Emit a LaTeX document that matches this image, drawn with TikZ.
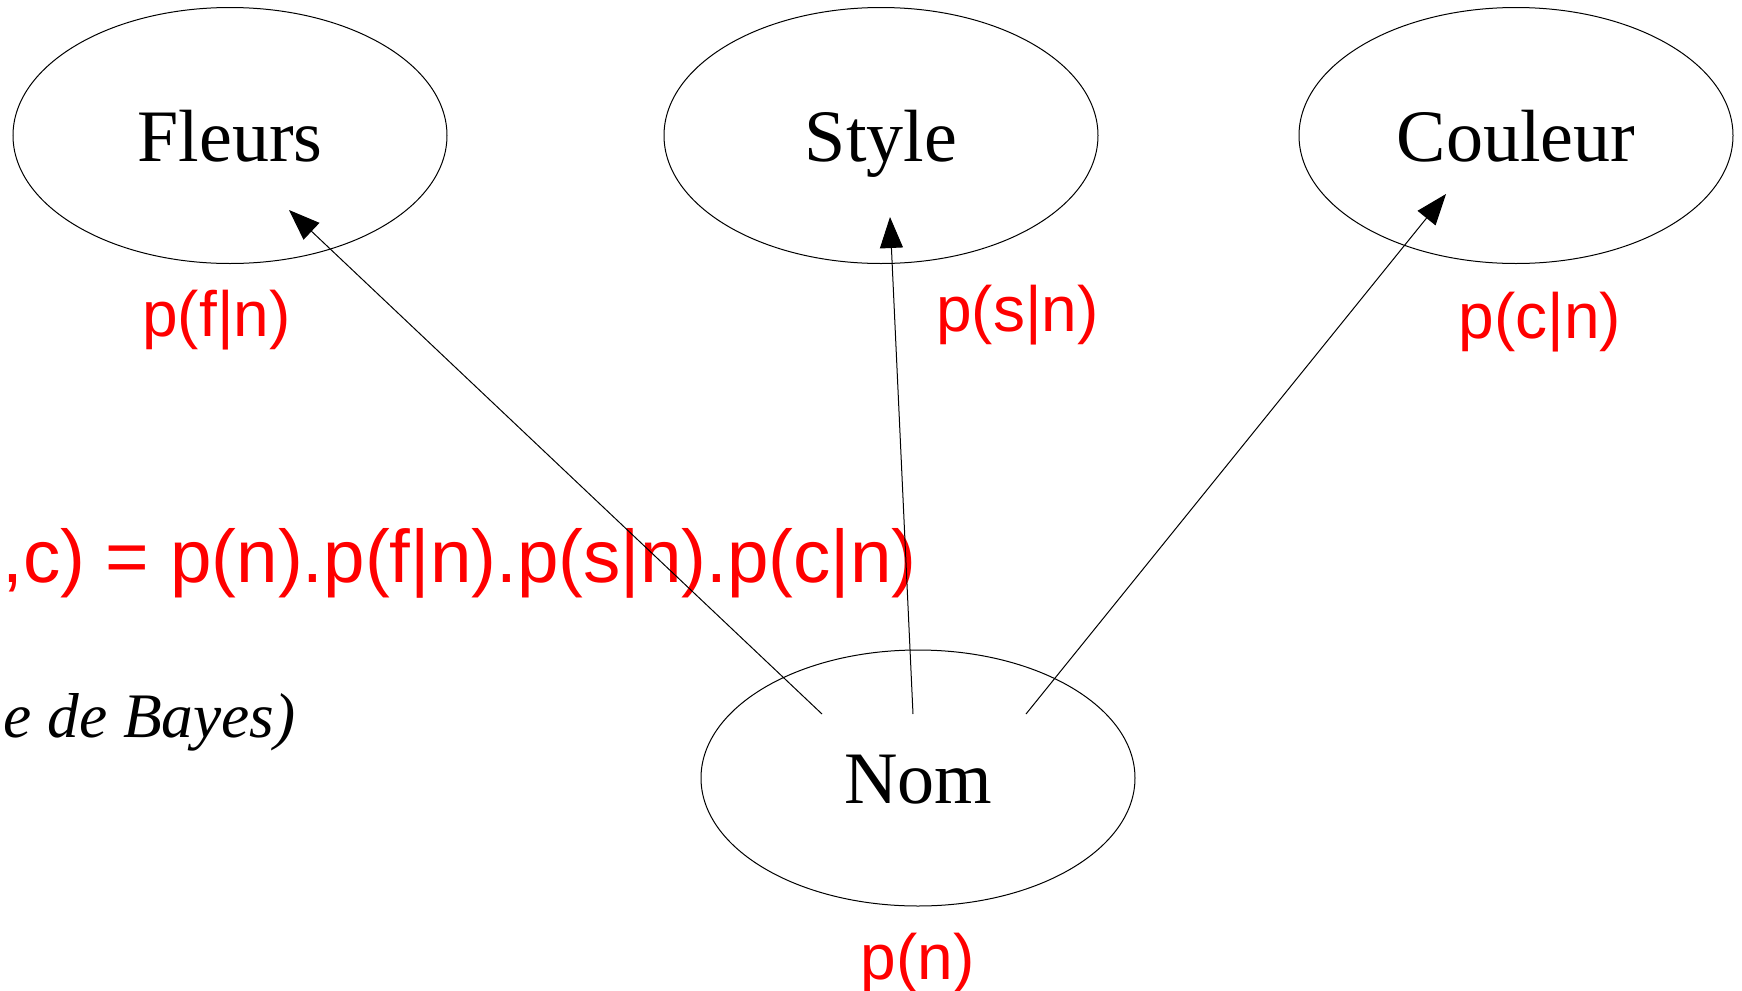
\documentclass[tikz,border=0pt]{standalone}
\usepackage{fontspec}
\setmainfont{Liberation Serif}
\newfontfamily\redsans{Liberation Sans}
\usetikzlibrary{shapes.geometric,arrows.meta}
\tikzset{
  var/.style={draw=black, line width=0.5pt, ellipse, minimum width=217pt, minimum height=128pt,
    inner sep=0pt, font=\fontsize{37}{40}\selectfont, text height=25.5pt, text depth=0pt},
  prob/.style={text=red, font=\redsans\fontsize{32}{35}\selectfont, anchor=base, inner sep=0pt},
  eqn/.style={text=red, font=\redsans\fontsize{37.3}{40}\selectfont, anchor=base east, inner sep=0pt},
  note/.style={font=\itshape\fontsize{31.7}{34}\selectfont, anchor=base east, inner sep=0pt},
  dep/.style={line width=0.5pt, -{Triangle[length=15.5pt,width=11.5pt]}}
}
\begin{document}
\begin{tikzpicture}[x=0.5pt, y=-0.5pt]
\useasboundingbox (0,0) rectangle (1742,991);
\node[var] (fleurs) at (230,135.5) {Fleurs};
\node[var] (style) at (881,135.5) {Style};
\node[var] (couleur) at (1516,135.5) {Couleur};
\node[var] (nom) at (918,778) {Nom};
\node[prob] (pf) at (216.5,336) {p(f|n)};
\node[prob] (ps) at (1017.5,331) {p(s|n)};
\node[prob] (pc) at (1540,338) {p(c|n)};
\node[prob] (pn) at (917.5,979) {p(n)};
\node[eqn] (eq) at (917,582) {,c) = p(n).p(f|n).p(s|n).p(c|n)};
\node[note] (bayes) at (296,737) {e de Bayes)};
\draw[dep] ([shift={(-96,-64)}]nom.center) -- ([shift={(59,74.5)}]fleurs.center);
\draw[dep] ([shift={(-5,-64)}]nom.center) -- ([shift={(9,81.5)}]style.center);
\draw[dep] ([shift={(108,-64)}]nom.center) -- ([shift={(-70,58.5)}]couleur.center);
\end{tikzpicture}
\end{document}
